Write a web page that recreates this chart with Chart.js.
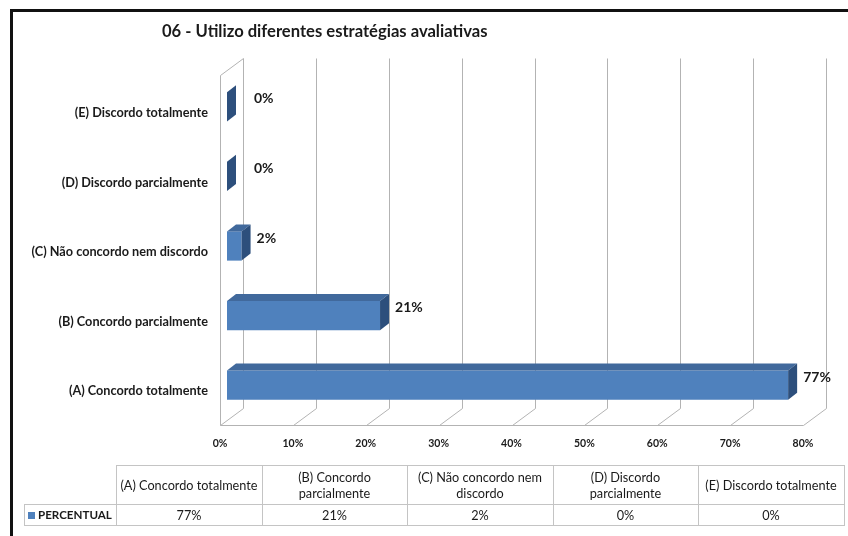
<!DOCTYPE html>
<html>
<head>
<meta charset="utf-8">
<script src="https://cdn.jsdelivr.net/npm/chart.js@4.4.0/dist/chart.umd.min.js"></script>
<style>
  html, body { margin: 0; padding: 0; background: #fff; }
  #wrap { position: relative; width: 848px; height: 536px; overflow: hidden; font-family: Lato, sans-serif; color: #1a1a1a; }
  #frame { position: absolute; left: 10px; top: 9px; width: 900px; height: 600px; border-top: 3px solid #111; border-left: 3px solid #111; }
  #chart { position: absolute; left: 0; top: 0; }
  #title { position: absolute; left: 162px; top: 21px; font-weight: bold; font-size: 16.6px; white-space: nowrap; }
  #dataTable { position: absolute; left: 24px; top: 465px; border-collapse: collapse; font-size: 12.7px; }
  #dataTable td { border: 1px solid #c4c4c4; text-align: center; vertical-align: middle; padding: 0 3px; line-height: 16px; }
  #dataTable tr.head td { height: 38px; }
  #dataTable tr.vals td { height: 20px; }
  #dataTable td.blank { border: none; border-right: 1px solid #c4c4c4; }
  #dataTable td.series { font-weight: bold; font-size: 11.6px; text-align: left; padding-left: 3px; white-space: nowrap; }
  .key { display: inline-block; width: 7px; height: 7px; background: #4f81bd; margin-right: 3px; }
</style>
</head>
<body>
<div id="wrap">
  <div id="frame"></div>
  <canvas id="chart" width="848" height="536"></canvas>
  <div id="title"></div>
  <table id="dataTable"></table>
</div>
<script>
  const chartTitle = "06 - Utilizo diferentes estratégias avaliativas";
  const categories = [
    "(A) Concordo totalmente",
    "(B) Concordo parcialmente",
    "(C) Não concordo nem discordo",
    "(D) Discordo parcialmente",
    "(E) Discordo totalmente"
  ];
  const seriesName = "PERCENTUAL";
  const percentValues = [77, 21, 2, 0, 0];
  const axisMax = 80;
  const axisStep = 10;

  const FRONT = "#4f81bd", TOP = "#41699c", SIDE = "#2d4f7c", GRID = "#b3b3b3";
  const barDepth = { dx: 9, dy: -7 };
  const wall = { dx: 23, dy: -17, shift: -7 };

  document.getElementById("title").textContent = chartTitle;

  const table = document.getElementById("dataTable");
  const colW = [91, 146, 145, 146, 145, 146];
  table.innerHTML = `<tr class="head"><td class="blank" style="width:${colW[0] - 6}px"></td>${
    categories.map((c, i) => `<td style="width:${colW[i + 1] - 7}px">${c}</td>`).join("")
  }</tr><tr class="vals"><td class="series"><span class="key"></span>${seriesName}</td>${
    percentValues.map(v => `<td>${v}%</td>`).join("")
  }</tr>`;

  const wallPlugin = {
    id: "wall3d",
    beforeDatasetsDraw(chart) {
      const { ctx, chartArea, scales: { x } } = chart;
      const floorY = Math.round(chartArea.bottom + 5) + 0.5;
      const backY = floorY + wall.dy;
      const topY = Math.round(chartArea.top - 14) + 0.5;
      ctx.save();
      ctx.strokeStyle = GRID;
      ctx.lineWidth = 1;
      ctx.beginPath();
      x.ticks.forEach(t => {
        const fx = Math.round(x.getPixelForValue(t.value) + wall.shift) + 0.5;
        ctx.moveTo(fx, floorY);
        ctx.lineTo(fx + wall.dx, backY);
        ctx.lineTo(fx + wall.dx, topY);
      });
      const x0 = Math.round(x.getPixelForValue(0) + wall.shift) + 0.5;
      const x1 = Math.round(x.getPixelForValue(axisMax) + wall.shift) + 0.5;
      ctx.moveTo(x1, floorY);
      ctx.lineTo(x0, floorY);
      ctx.lineTo(x0, topY - wall.dy);
      ctx.lineTo(x0 + wall.dx, topY);
      ctx.stroke();
      ctx.restore();
    },
    afterDatasetsDraw(chart) {
      const { ctx } = chart;
      const meta = chart.getDatasetMeta(0);
      ctx.save();
      meta.data.forEach((bar, i) => {
        const { x, y, base, height } = bar.getProps(["x", "y", "base", "height"], true);
        const top = y - height / 2, bottom = y + height / 2;
        if (x - base > 0.5) {
          ctx.fillStyle = TOP;
          ctx.beginPath();
          ctx.moveTo(base, top);
          ctx.lineTo(x, top);
          ctx.lineTo(x + barDepth.dx, top + barDepth.dy);
          ctx.lineTo(base + barDepth.dx, top + barDepth.dy);
          ctx.closePath();
          ctx.fill();
        }
        ctx.fillStyle = SIDE;
        ctx.beginPath();
        ctx.moveTo(x, top);
        ctx.lineTo(x, bottom);
        ctx.lineTo(x + barDepth.dx, bottom + barDepth.dy);
        ctx.lineTo(x + barDepth.dx, top + barDepth.dy);
        ctx.closePath();
        ctx.fill();

        ctx.fillStyle = "#1a1a1a";
        ctx.font = "bold 14px Lato";
        ctx.textAlign = "left";
        ctx.textBaseline = "middle";
        ctx.fillText(percentValues[i] + "%", Math.max(x + barDepth.dx + 6, base + 27), y - 8);
      });
      ctx.restore();
    }
  };

  Chart.defaults.font.family = "Lato";
  Chart.defaults.color = "#1a1a1a";

  new Chart(document.getElementById("chart"), {
    type: "bar",
    data: {
      labels: categories,
      datasets: [{
        label: seriesName,
        data: percentValues,
        backgroundColor: FRONT,
        borderWidth: 0,
        barPercentage: 0.42,
        categoryPercentage: 1
      }]
    },
    options: {
      indexAxis: "y",
      responsive: false,
      animation: false,
      devicePixelRatio: 1,
      layout: { padding: { top: 72, right: 38, bottom: 0, left: 0 } },
      plugins: { legend: { display: false }, tooltip: { enabled: false } },
      scales: {
        x: {
          min: 0,
          max: axisMax,
          grid: { display: false, drawTicks: false },
          border: { display: false },
          ticks: {
            stepSize: axisStep,
            padding: 17,
            labelOffset: -7,
            font: { size: 10.5, weight: "bold" },
            callback: v => v + "%"
          },
          afterFit: scale => { scale.height = 116; }
        },
        y: {
          reverse: true,
          grid: { display: false, drawTicks: false },
          border: { display: false },
          ticks: {
            padding: 19,
            labelOffset: 6,
            font: { size: 12.7, weight: "bold" }
          },
          afterFit: scale => { scale.width = 227; }
        }
      }
    },
    plugins: [wallPlugin]
  });
</script>
</body>
</html>
